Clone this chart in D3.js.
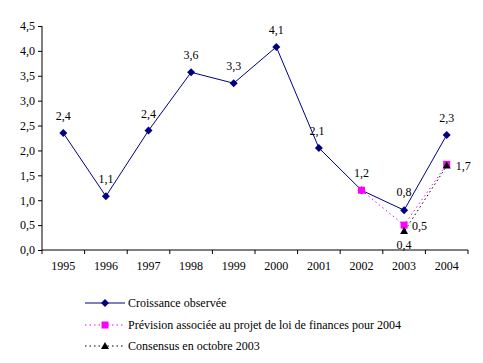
<!DOCTYPE html>
<html>
<head>
<meta charset="utf-8">
<script src="https://cdnjs.cloudflare.com/ajax/libs/d3/7.8.5/d3.min.js"></script>
<style>
  body { margin: 0; background: #fff; }
  svg text { font-family: "Liberation Serif", "DejaVu Serif", serif !important; font-size: 12px; fill: #000; }
</style>
</head>
<body>
<div id="chart"></div>
<script>
const years = ["1995","1996","1997","1998","1999","2000","2001","2002","2003","2004"];
const observed = [2.35, 1.08, 2.4, 3.57, 3.35, 4.08, 2.05, 1.2, 0.8, 2.31];
const observedLabels = ["2,4","1,1","2,4","3,6","3,3","4,1","2,1","1,2","0,8","2,3"];
const prevision = [{year: "2002", v: 1.2}, {year: "2003", v: 0.5}, {year: "2004", v: 1.72}];
const consensus = [{year: "2003", v: 0.4}, {year: "2004", v: 1.72}];
const yTicks = [0, 0.5, 1, 1.5, 2, 2.5, 3, 3.5, 4, 4.5];
const legendNames = ["Croissance observée", "Prévision associée au projet de loi de finances pour 2004", "Consensus en octobre 2003"];

const svg = d3.select("#chart").append("svg").attr("width", 483).attr("height", 363)
  .attr("font-family", "Liberation Serif");

const x = d3.scaleBand().domain(years).range([42, 468]);
const y = d3.scaleLinear().domain([0, 4.5]).range([250, 26]);
const cx = d => x(d) + x.bandwidth() / 2;
const fmt = v => d3.format(".1f")(v).replace(".", ",");

// axes
const yAxis = svg.append("g").attr("transform", "translate(42,0)")
  .call(d3.axisLeft(y).tickValues(yTicks).tickFormat(fmt).tickSize(4).tickPadding(3));
yAxis.select(".domain").attr("d", "M0,26V250");

const xAxis = svg.append("g").attr("transform", "translate(0,250)")
  .call(d3.axisBottom(x).tickSize(0).tickPadding(11));
xAxis.select(".domain").attr("d", "M42,0H468");
svg.append("g").selectAll("line")
  .data(years.concat(["end"]))
  .join("line")
  .attr("x1", (d, i) => 42 + i * x.bandwidth())
  .attr("x2", (d, i) => 42 + i * x.bandwidth())
  .attr("y1", 250).attr("y2", 254)
  .attr("stroke", "#000");
svg.selectAll("g").attr("font-family", "Liberation Serif").attr("font-size", 12);
svg.selectAll(".domain, .tick line").attr("stroke", "#000");

// lines
const lineObs = d3.line().x((d, i) => cx(years[i])).y(d => y(d));
svg.append("path").attr("d", lineObs(observed))
  .attr("fill", "none").attr("stroke", "#000080").attr("stroke-width", 1);

const lineS = d3.line().x(d => cx(d.year)).y(d => y(d.v));
svg.append("path").attr("d", lineS(consensus))
  .attr("fill", "none").attr("stroke", "#000").attr("stroke-dasharray", "1.5,3").attr("transform", "translate(1,0)");
svg.append("path").attr("d", lineS(prevision))
  .attr("fill", "none").attr("stroke", "#ff00ff").attr("stroke-dasharray", "1.5,3");

// markers
const diamond = "M0,-4L4,0L0,4L-4,0Z";
svg.append("g").selectAll("path").data(observed).join("path")
  .attr("d", diamond)
  .attr("transform", (d, i) => `translate(${cx(years[i])},${y(d)})`)
  .attr("fill", "#000080");
svg.append("g").selectAll("rect").data(prevision).join("rect")
  .attr("x", d => cx(d.year) - 3.5).attr("y", d => y(d.v) - 3.5)
  .attr("width", 7).attr("height", 7).attr("fill", "#ff00ff");
const tri = "M0,-4L4,3L-4,3Z";
svg.append("g").selectAll("path").data(consensus).join("path")
  .attr("d", tri)
  .attr("transform", d => `translate(${cx(d.year)},${y(d.v) + 1})`)
  .attr("fill", "#000");

// data labels
const obsOffsets = [[0,-13],[0,-13],[0,-13],[0,-13],[0,-13],[0,-13],[-2,-13],[0,-13],[0,-14],[0,-13]];
svg.append("g").selectAll("text").data(observed).join("text")
  .attr("x", (d, i) => cx(years[i]) + obsOffsets[i][0])
  .attr("y", (d, i) => y(d) + obsOffsets[i][1])
  .attr("text-anchor", "middle")
  .text((d, i) => observedLabels[i]);
svg.append("text").attr("x", cx("2003") + 8).attr("y", y(0.5) + 5).text(fmt(0.5));
svg.append("text").attr("x", cx("2003")).attr("y", y(0.4) + 19).attr("text-anchor", "middle").text(fmt(0.4));
svg.append("text").attr("x", cx("2004") + 9).attr("y", y(1.72) + 6).text(fmt(1.7));

// legend
const legend = svg.append("g");
const rows = [303, 325, 346];
legendNames.forEach((name, i) => {
  const g = legend.append("g").attr("transform", `translate(0,${rows[i]})`);
  const ln = g.append("line").attr("x1", 85).attr("x2", 125).attr("y1", 0).attr("y2", 0);
  if (i === 0) {
    ln.attr("stroke", "#000080");
    g.append("path").attr("d", diamond).attr("transform", "translate(105,0)").attr("fill", "#000080");
  } else if (i === 1) {
    ln.attr("stroke", "#ff00ff").attr("stroke-dasharray", "1.5,3");
    g.append("rect").attr("x", 101.5).attr("y", -3.5).attr("width", 7).attr("height", 7).attr("fill", "#ff00ff");
  } else {
    ln.attr("stroke", "#000").attr("stroke-dasharray", "1.5,3");
    g.append("path").attr("d", tri).attr("transform", "translate(105,0)").attr("fill", "#000");
  }
  g.append("text").attr("x", 128).attr("y", 4).text(name);
});
</script>
</body>
</html>
